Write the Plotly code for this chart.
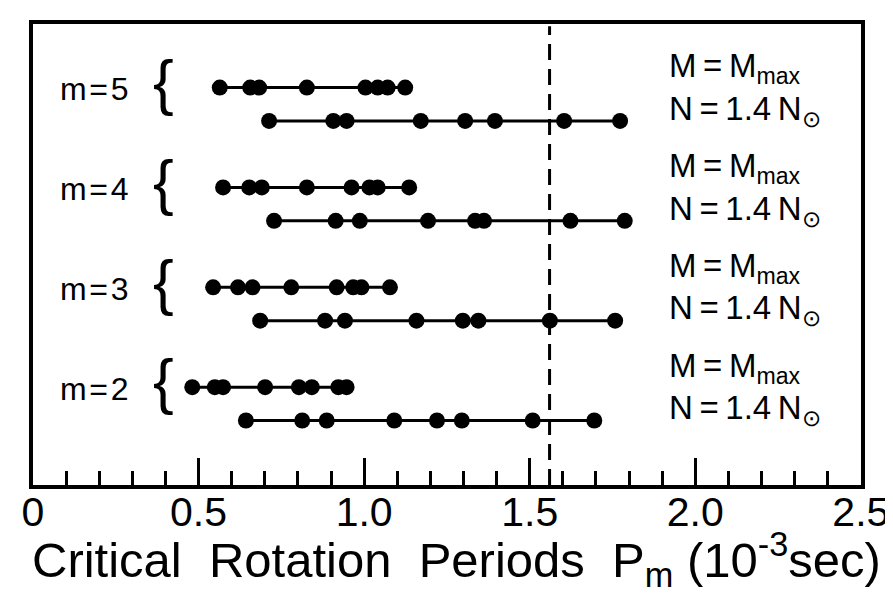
import plotly.graph_objects as go

# ---- data (periods in 10^-3 s) ----
m_values = [5, 4, 3, 2]
tick_vals = [0, 0.5, 1.0, 1.5, 2.0, 2.5]
tick_text = ["0", "0.5", "1.0", "1.5", "2.0", "2.5"]
critical_period = 1.56

m5_mmax = [0.564, 0.656, 0.683, 0.827, 1.004, 1.041, 1.071, 1.124]
m5_n14 = [0.713, 0.907, 0.947, 1.171, 1.305, 1.395, 1.604, 1.773]
m4_mmax = [0.574, 0.653, 0.691, 0.827, 0.962, 1.016, 1.041, 1.136]
m4_n14 = [0.728, 0.914, 0.987, 1.193, 1.335, 1.362, 1.623, 1.787]
m3_mmax = [0.544, 0.619, 0.663, 0.780, 0.917, 0.967, 0.992, 1.078]
m3_n14 = [0.686, 0.882, 0.942, 1.158, 1.298, 1.345, 1.561, 1.758]
m2_mmax = [0.481, 0.549, 0.574, 0.701, 0.803, 0.842, 0.922, 0.947]
m2_n14 = [0.643, 0.813, 0.887, 1.091, 1.220, 1.295, 1.509, 1.695]

label_top = "M\u2009=\u2009M<sub>max</sub>"
label_bottom = "N\u2009=\u20091.4\u2009N<sub>⊙</sub>"

rows_mmax = [m5_mmax, m4_mmax, m3_mmax, m2_mmax]
rows_n14 = [m5_n14, m4_n14, m3_n14, m2_n14]

FONT = "Liberation Sans, Arial, sans-serif"
OFF = 0.167

fig = go.Figure()
for m, top, bot in zip(m_values, rows_mmax, rows_n14):
    for vals, dy in ((top, OFF), (bot, -OFF)):
        fig.add_trace(go.Scatter(
            x=vals, y=[m + dy] * len(vals), mode="lines+markers",
            line=dict(color="black", width=3),
            marker=dict(color="black", size=16),
            showlegend=False, hoverinfo="skip"))
    fig.add_annotation(x=0.076, y=m + 0.15, xref="x", yref="y", text=f"m\u200a=\u200a{m}",
                       showarrow=False, xanchor="left", yanchor="middle",
                       font=dict(family=FONT, size=32, color="black"))
    fig.add_annotation(x=0.395, y=m + 0.23, xref="x", yref="y", text="{",
                       showarrow=False, xanchor="center", yanchor="middle",
                       font=dict(family=FONT, size=62, color="black"))
    fig.add_annotation(x=1.915, y=m + 0.36, xref="x", yref="y", text=label_top,
                       showarrow=False, xanchor="left", yanchor="middle",
                       font=dict(family=FONT, size=33, color="black"))
    fig.add_annotation(x=1.915, y=m - 0.065, xref="x", yref="y", text=label_bottom,
                       showarrow=False, xanchor="left", yanchor="middle",
                       font=dict(family=FONT, size=33, color="black"))

fig.add_shape(type="line", x0=critical_period, x1=critical_period, xref="x",
              yref="paper", y0=0, y1=0.995,
              line=dict(color="black", width=3, dash="16px,9px"))

fig.add_annotation(x=1.28, y=-0.161, xref="x", yref="paper",
                   text="Critical  Rotation  Periods  P<sub>m</sub> (10<sup>-3</sup>sec)",
                   showarrow=False, xanchor="center", yanchor="middle",
                   font=dict(family=FONT, size=49, color="black"))

fig.update_layout(
    width=893, height=611, autosize=False,
    margin=dict(l=24.5, r=31, t=14, b=134),
    plot_bgcolor="white", paper_bgcolor="white",
    xaxis=dict(range=[0, 2.5005], showline=True, linewidth=4, linecolor="black",
               mirror=True, ticks="inside", ticklen=27, tickwidth=3, tickcolor="black",
               tickmode="array", tickvals=tick_vals, ticktext=tick_text,
               tickfont=dict(family=FONT, size=41, color="black"),
               ticklabelstandoff=-12,
               showgrid=False, zeroline=False,
               minor=dict(dtick=0.1, tick0=0, ticks="inside", ticklen=14, tickwidth=3,
                          tickcolor="black", showgrid=False)),
    yaxis=dict(range=[1.187, 5.804], showline=True, linewidth=4, linecolor="black",
               mirror=True, ticks="", showticklabels=False, showgrid=False,
               zeroline=False),
)

fig.write_html("out.html")
